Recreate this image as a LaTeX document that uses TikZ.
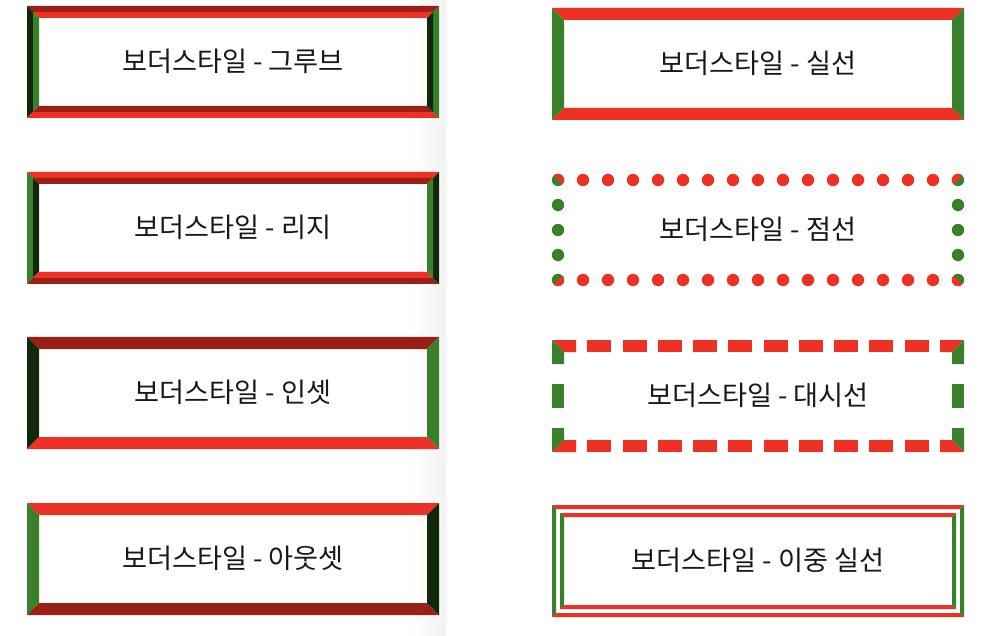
\documentclass[tikz,border=0pt]{standalone}
\usepackage{fontspec}
\newfontfamily\kr{Noto Sans CJK KR}
\definecolor{bred}{HTML}{EE3124}
\definecolor{bredd}{HTML}{9C1F16}
\definecolor{bgrn}{HTML}{38802A}
\definecolor{bgrnd}{HTML}{11290B}
% one band of a mitred border, offsets #1..#2, colours top/left/bottom/right
\newcommand{\bband}[6]{%
  \fill[#3] (#1,#1) -- (412-#1,#1) -- (412-#2,#2) -- (#2,#2) -- cycle;
  \fill[#4] (#1,#1) -- (#2,#2) -- (#2,112-#2) -- (#1,112-#1) -- cycle;
  \fill[#5] (#1,112-#1) -- (412-#1,112-#1) -- (412-#2,112-#2) -- (#2,112-#2) -- cycle;
  \fill[#6] (412-#1,#1) -- (412-#2,#2) -- (412-#2,112-#2) -- (412-#1,112-#1) -- cycle;
}
\begin{document}
\begin{tikzpicture}[x=1pt, y=-1pt,
  every node/.style={font=\kr\fontsize{27.2}{31}\selectfont, text=black!90, inner sep=0pt},
  dotred/.style={fill=bred},
  dotgrn/.style={fill=bgrn}
]
\useasboundingbox (0,0) rectangle (996,636);
\shade[left color=white, right color=black!5] (410,0) rectangle (446,636);

% left column
\begin{scope}[shift={(27,6)}]
  \bband{0}{6}{bredd}{bgrnd}{bred}{bgrn}
  \bband{6}{12}{bred}{bgrn}{bredd}{bgrnd}
\end{scope}
\begin{scope}[shift={(27,172)}]
  \bband{0}{6}{bred}{bgrn}{bredd}{bgrnd}
  \bband{6}{12}{bredd}{bgrnd}{bred}{bgrn}
\end{scope}
\begin{scope}[shift={(27,337)}]
  \bband{0}{12}{bredd}{bgrnd}{bred}{bgrn}
\end{scope}
\begin{scope}[shift={(27,503)}]
  \bband{0}{12}{bred}{bgrn}{bredd}{bgrnd}
\end{scope}

% right column
\begin{scope}[shift={(552,8)}]
  \bband{0}{12}{bred}{bgrn}{bred}{bgrn}
\end{scope}
\begin{scope}[shift={(552,174)}]
  \foreach \i in {1,...,15} {
    \fill[dotred] (6+25*\i,6) circle (6.2pt);
    \fill[dotred] (6+25*\i,106) circle (6.2pt);
  }
  \foreach \j in {1,2,3} {
    \fill[dotgrn] (6,6+25*\j) circle (6.2pt);
    \fill[dotgrn] (406,6+25*\j) circle (6.2pt);
  }
  \foreach \cx/\cy in {6/6, 406/6, 6/106, 406/106}
    \fill[dotgrn] (\cx,\cy) circle (6.2pt);
  \begin{scope}
    \clip (0,0) -- (13,0) -- (13,13) -- cycle;
    \fill[dotred] (6,6) circle (6.2pt);
  \end{scope}
  \begin{scope}
    \clip (399,0) -- (412,0) -- (399,13) -- cycle;
    \fill[dotred] (406,6) circle (6.2pt);
  \end{scope}
  \begin{scope}
    \clip (13,99) -- (13,112) -- (0,112) -- cycle;
    \fill[dotred] (6,106) circle (6.2pt);
  \end{scope}
  \begin{scope}
    \clip (399,99) -- (399,112) -- (412,112) -- cycle;
    \fill[dotred] (406,106) circle (6.2pt);
  \end{scope}
\end{scope}
\begin{scope}[shift={(552,340)}]
  \foreach \i in {1,...,10} {
    \fill[bred] ({35.2727*\i},0) rectangle ++(24,12);
    \fill[bred] ({35.2727*\i},100) rectangle ++(24,12);
  }
  \fill[bgrn] (0,44) rectangle (12,68);
  \fill[bgrn] (400,44) rectangle (412,68);
  % corners
  \fill[bred] (0,0) -- (24,0) -- (24,12) -- (12,12) -- cycle;
  \fill[bgrn] (0,0) -- (12,12) -- (12,24) -- (0,24) -- cycle;
  \fill[bred] (412,0) -- (388,0) -- (388,12) -- (400,12) -- cycle;
  \fill[bgrn] (412,0) -- (400,12) -- (400,24) -- (412,24) -- cycle;
  \fill[bred] (0,112) -- (24,112) -- (24,100) -- (12,100) -- cycle;
  \fill[bgrn] (0,112) -- (12,100) -- (12,88) -- (0,88) -- cycle;
  \fill[bred] (412,112) -- (388,112) -- (388,100) -- (400,100) -- cycle;
  \fill[bgrn] (412,112) -- (400,100) -- (400,88) -- (412,88) -- cycle;
\end{scope}
\begin{scope}[shift={(552,505)}]
  \bband{0}{4}{bred}{bgrn}{bred}{bgrn}
  \bband{8}{12}{bred}{bgrn}{bred}{bgrn}
\end{scope}

% labels
\node (groove) at (233,61)  {보더스타일 - 그루브};
\node (ridge)  at (233,227) {보더스타일 - 리지};
\node (inset)  at (233,392) {보더스타일 - 인셋};
\node (outset) at (233,558) {보더스타일 - 아웃셋};
\node (solid)  at (758,63)  {보더스타일 - 실선};
\node (dotted) at (758,229) {보더스타일 - 점선};
\node (dashed) at (758,395) {보더스타일 - 대시선};
\node (double) at (758,560) {보더스타일 - 이중 실선};
\end{tikzpicture}
\end{document}
